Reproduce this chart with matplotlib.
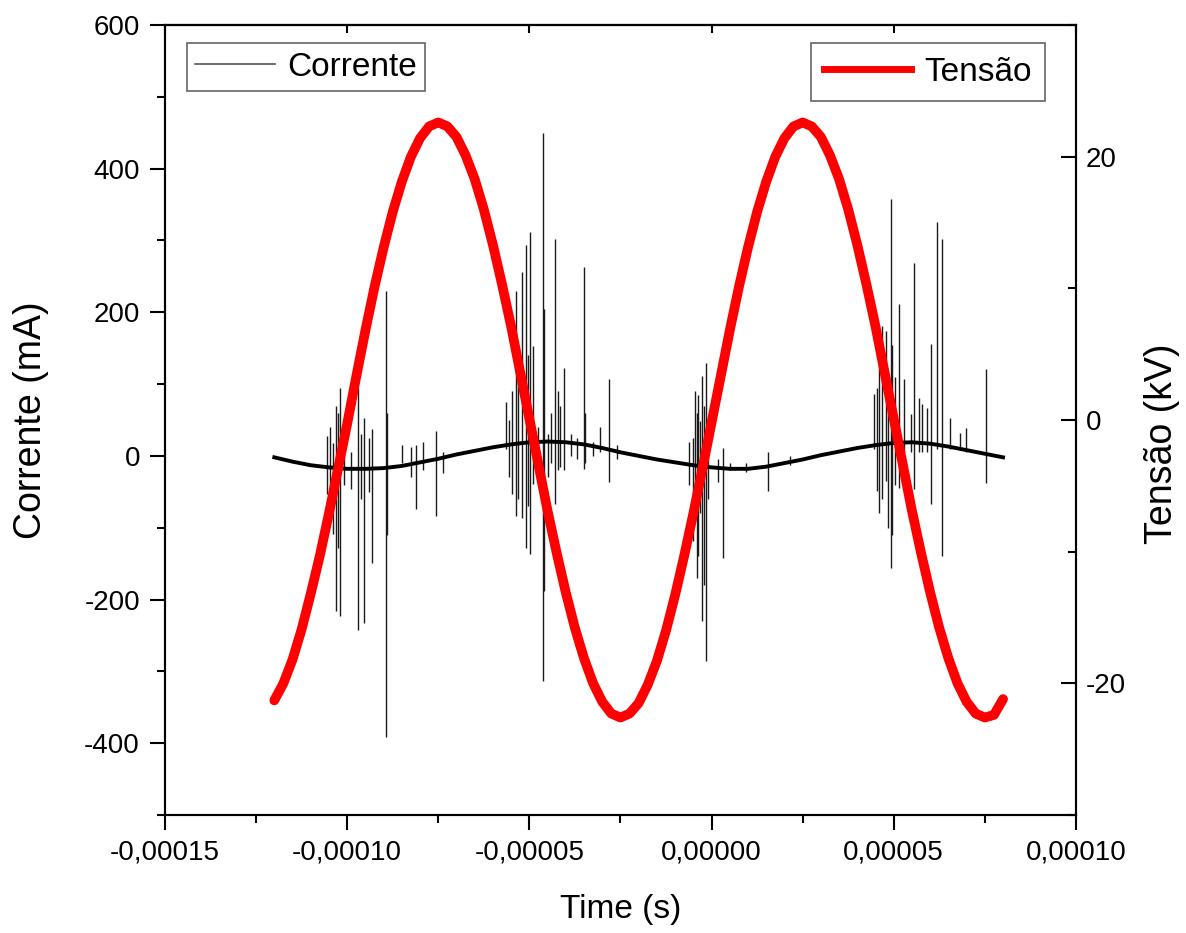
import numpy as np
import matplotlib
matplotlib.use("Agg")
import matplotlib.pyplot as plt
from matplotlib.ticker import MultipleLocator, FuncFormatter
from matplotlib.lines import Line2D

plt.rcParams['font.family'] = ['Liberation Sans', 'DejaVu Sans']
plt.rcParams['axes.unicode_minus'] = False

# sample times for the two smooth curves (microseconds)
t_us = np.arange(-120.0, 80.1, 2.5)

# applied voltage, kV (every 2.5 us)
tensao_kv = [
    -21.3, -20.0, -18.2, -15.9, -13.2, -10.3, -7.1, -3.7,
    -0.3, 3.3, 6.8, 10.1, 13.1, 15.8, 18.1, 20.0, 21.4, 22.3, 22.6,
    22.3, 21.5, 20.1, 18.3, 16.0, 13.3, 10.3, 7.1, 3.6, 0.1,
    -3.4, -6.9, -10.1, -13.1, -15.8, -18.1, -20.0, -21.4, -22.3, -22.6,
    -22.3, -21.5, -20.1, -18.3, -16.0, -13.3, -10.3, -7.1, -3.7, -0.2,
    3.3, 6.8, 10.1, 13.1, 15.8, 18.1, 20.0, 21.4, 22.3, 22.6,
    22.3, 21.5, 20.1, 18.3, 16.0, 13.3, 10.3, 7.1, 3.6, 0.1,
    -3.4, -6.9, -10.1, -13.1, -15.8, -18.1, -20.0, -21.4, -22.3, -22.6,
    -22.4, -21.2,
]

# slow (displacement) part of the current, mA, every 5 us
base_t_us = np.arange(-120.0, 80.1, 5.0)
base_ma = [
    -2, -8, -13, -16, -18, -18, -17, -14, -9, -4,
    2, 7, 12, 16, 19, 20, 19, 16, 11, 5,
    0, -5, -9, -13, -16, -18, -18, -15, -10, -5,
    1, 6, 11, 15, 18, 19, 17, 13, 8, 3,
    -2,
]

# discharge spikes: time (us), max and min current (mA)
spike_t_us = [
    -105.5, -104.6, -103.9, -103.1, -102.5, -102.0, -100.8, -99.0, -97.0, -96.2,
    -95.4, -94.1, -93.2, -89.4, -89.1, -85.0, -82.5, -81.1, -79.2, -75.6, -73.7,
    -56.4, -55.5, -54.8, -53.7, -53.0, -52.0, -50.9, -50.3, -49.8, -49.0,
    -47.5, -46.3, -46.0, -44.9, -44.0, -43.0, -42.2, -41.5, -40.5, -38.6,
    -37.0, -35.0, -34.6, -32.4, -30.6, -28.2, -25.9,
    -6.3, -5.1, -4.6, -4.0, -3.6, -3.2, -2.6, -2.1, -1.5, -0.9, 1.7, 3.1, 5.0,
    9.4, 15.5, 21.5,
    44.6, 45.4, 46.0, 46.7, 47.8, 48.5, 49.2, 49.6, 50.3, 51.4, 52.8, 54.7,
    55.5, 56.9, 57.7, 59.1, 60.2, 61.8, 63.2, 65.4, 68.2, 69.8, 75.3,
]
spike_hi = [
    28, 40, 18, 70, 60, 95, 20, 5, 95, 30,
    53, 25, 38, 229, 60, 15, 12, 15, 20, 35, 5,
    75, 50, 90, 229, 110, 256, 293, 140, 312, 153,
    40, 449, 205, 30, 60, 302, 90, 70, 122, 30,
    25, 263, 60, 20, 40, 107, 15,
    20, 25, 90, 60, 85, 49, 111, 70, 130, 40, -5, 11, -10,
    -10, 5, 0,
    86, 95, 150, 181, 174, 90, 358, 155, 110, 212, 107, 58,
    268, 81, 72, 67, 156, 325, 302, 53, 32, 39, 121,
]
spike_lo = [
    -53, -70, -109, -216, -128, -223, -40, -46, -243, -60,
    -233, -50, -149, -392, -110, -10, -30, -74, -20, -84, -24,
    10, -30, -53, -84, -60, -86, -128, -70, -137, -39,
    -20, -314, -188, -30, -10, -67, -20, -15, -20, 0,
    -5, -18, -10, 0, 5, -37, -5,
    -40, -118, -90, -170, -140, -80, -230, -180, -286, -60, -37, -142, -20,
    -22, -49, -12,
    10, -49, -80, -60, -35, -100, -156, -110, -40, -45, 5, 5,
    -46, 5, 5, 5, -67, 10, -139, 10, 8, 5, -38,
]

t = t_us * 1e-6
base_t = base_t_us * 1e-6
spike_t = np.array(spike_t_us) * 1e-6


def comma_fmt(v, pos, nd):
    if abs(v) < 1e-12:
        v = 0.0
    return f"{v:.{nd}f}".replace('.', ',')


fig = plt.figure(figsize=(11.86, 9.33), dpi=100)
ax = fig.add_axes([0.1391, 0.1265, 0.7681, 0.8467])
ax2 = ax.twinx()

# current
ax.vlines(spike_t, spike_lo, spike_hi, color='#1a1a1a', lw=1.0)
ax.plot(base_t, base_ma, color='k', lw=2.8)

# voltage
ax2.plot(t, tensao_kv, color='#ff0000', lw=7, solid_capstyle='round',
         solid_joinstyle='round')

ax.set_xlim(-0.00015, 0.0001)
ax.set_ylim(-500, 600)
ax2.set_ylim(-30, 30)

ax.xaxis.set_major_locator(MultipleLocator(0.00005))
ax.xaxis.set_minor_locator(MultipleLocator(0.000025))
ax.xaxis.set_major_formatter(FuncFormatter(lambda v, p: comma_fmt(v, p, 5)))
ax.yaxis.set_major_locator(MultipleLocator(200))
ax.yaxis.set_minor_locator(MultipleLocator(100))
ax2.yaxis.set_major_locator(MultipleLocator(20))
ax2.yaxis.set_minor_locator(MultipleLocator(10))

ax.tick_params(axis='both', which='major', direction='out', length=11, width=1.5,
               labelsize=20, pad=7)
ax.tick_params(axis='both', which='minor', direction='out', length=6, width=1.5)
ax.tick_params(axis='x', which='both', top=False)
ax.tick_params(axis='y', which='both', right=False)
ax2.tick_params(axis='y', which='major', direction='in', length=11, width=1.5,
                labelsize=20, pad=7)
ax2.tick_params(axis='y', which='minor', direction='in', length=6, width=1.5)

# short inward ticks on top spine
top = ax.secondary_xaxis('top')
top.xaxis.set_major_locator(MultipleLocator(0.00005))
top.tick_params(direction='in', length=6, width=1.5, labeltop=False)
top.spines['top'].set_linewidth(1.5)

for a in (ax, ax2):
    for s in a.spines.values():
        s.set_linewidth(1.5)

ax.set_xlabel('Time (s)', fontsize=24)
ax.xaxis.set_label_coords(0.5, -0.1)
ax.set_ylabel('Corrente (mA)', fontsize=27, va='center')
ax.yaxis.set_label_coords(-0.147, 0.5)
ax2.set_ylabel('Tensão (kV)', fontsize=27, rotation=90, va='center')
ax2.yaxis.set_label_coords(1.094, 0.47)

leg1 = ax2.legend(handles=[Line2D([], [], color='#555555', lw=1.2)], labels=['Corrente'],
                  loc='upper left', bbox_to_anchor=(0.024, 0.977), borderaxespad=0,
                  fontsize=24, handlelength=2.4, handletextpad=0.35, borderpad=0.25,
                  fancybox=False, framealpha=1, edgecolor='#666666')
leg1.get_frame().set_linewidth(1.2)
ax2.add_artist(leg1)
leg2 = ax2.legend(handles=[Line2D([], [], color='#ff0000', lw=5)], labels=['Tensão'],
                  loc='upper right', bbox_to_anchor=(0.966, 0.977), borderaxespad=0,
                  fontsize=24, handlelength=2.6, handletextpad=0.4, borderpad=0.4,
                  fancybox=False, framealpha=1, edgecolor='#666666')
leg2.get_frame().set_linewidth(1.2)

fig.savefig('out.png', dpi=100)
